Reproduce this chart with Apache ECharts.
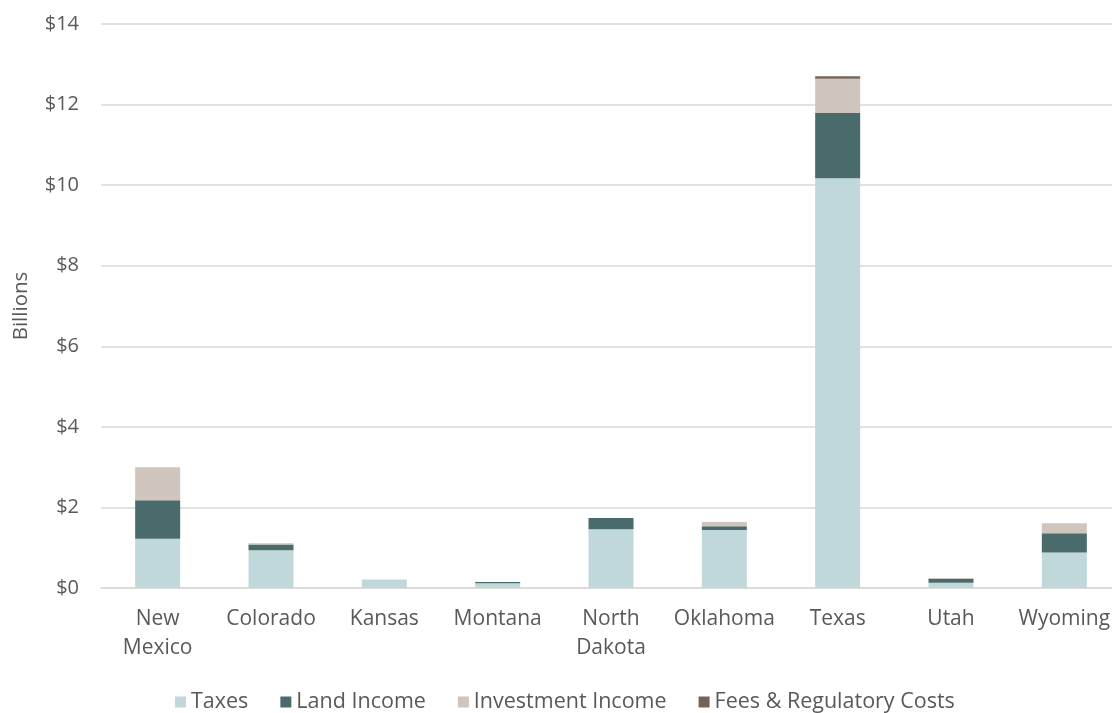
<!DOCTYPE html>
<html>
<head>
<meta charset="utf-8">
<script src="https://cdn.jsdelivr.net/npm/echarts@6/dist/echarts.min.js"></script>
<style>
html,body{margin:0;padding:0;background:#fff;}
#chart{width:1112px;height:713px;}
</style>
</head>
<body>
<div id="chart"></div>
<script>
const categories = ['New\nMexico', 'Colorado', 'Kansas', 'Montana', 'North\nDakota', 'Oklahoma', 'Texas', 'Utah', 'Wyoming'];
const taxes = [1.22, 0.94, 0.21, 0.12, 1.46, 1.44, 10.17, 0.13, 0.88];
const landIncome = [0.96, 0.14, 0, 0.03, 0.28, 0.09, 1.62, 0.10, 0.48];
const investmentIncome = [0.82, 0.03, 0, 0, 0, 0.11, 0.85, 0.02, 0.25];
const feesRegulatory = [0, 0, 0, 0, 0, 0, 0.06, 0, 0];
const yTicks = [0, 2, 4, 6, 8, 10, 12, 14];

const font = 'Open Sans';
const textColor = '#595959';
const chart = echarts.init(document.getElementById('chart'));
function bar(name, data, color) {
  return { name: name, type: 'bar', stack: 'total', data: data, barWidth: 45,
    itemStyle: { color: color }, emphasis: { disabled: true } };
}
chart.setOption({
  animation: false,
  textStyle: { fontFamily: font },
  grid: { left: 101, width: 1020, top: 24, height: 564, containLabel: false, outerBoundsMode: 'none' },
  legend: {
    left: 170, top: 686,
    itemWidth: 11, itemHeight: 11, itemGap: 32,
    icon: 'rect',
    textStyle: { fontFamily: font, fontSize: 21.5, color: textColor },
    data: ['Taxes', 'Land Income', 'Investment Income', 'Fees & Regulatory Costs']
  },
  xAxis: {
    type: 'category', data: categories,
    axisTick: { show: false },
    axisLine: { lineStyle: { color: '#D9D9D9', width: 1.5 } },
    axisLabel: { interval: 0, fontFamily: font, fontSize: 21, color: textColor, lineHeight: 29, margin: 17 }
  },
  yAxis: {
    type: 'value', min: yTicks[0], max: yTicks[yTicks.length - 1], interval: 2,
    name: 'Billions', nameLocation: 'middle', nameRotate: 90, nameGap: 69,
    nameTextStyle: { fontFamily: font, fontSize: 20.5, color: textColor },
    axisLine: { show: false }, axisTick: { show: false },
    splitLine: { lineStyle: { color: '#D9D9D9', width: 1.5 } },
    axisLabel: { fontFamily: font, fontSize: 20, color: textColor, margin: 22,
      formatter: function (v) { return '$' + v; } }
  },
  series: [
    bar('Taxes', taxes, '#C0D8D9'),
    bar('Land Income', landIncome, '#4A6B6C'),
    bar('Investment Income', investmentIncome, '#D0C5BC'),
    bar('Fees & Regulatory Costs', feesRegulatory, '#756456')
  ]
});
</script>
</body>
</html>
